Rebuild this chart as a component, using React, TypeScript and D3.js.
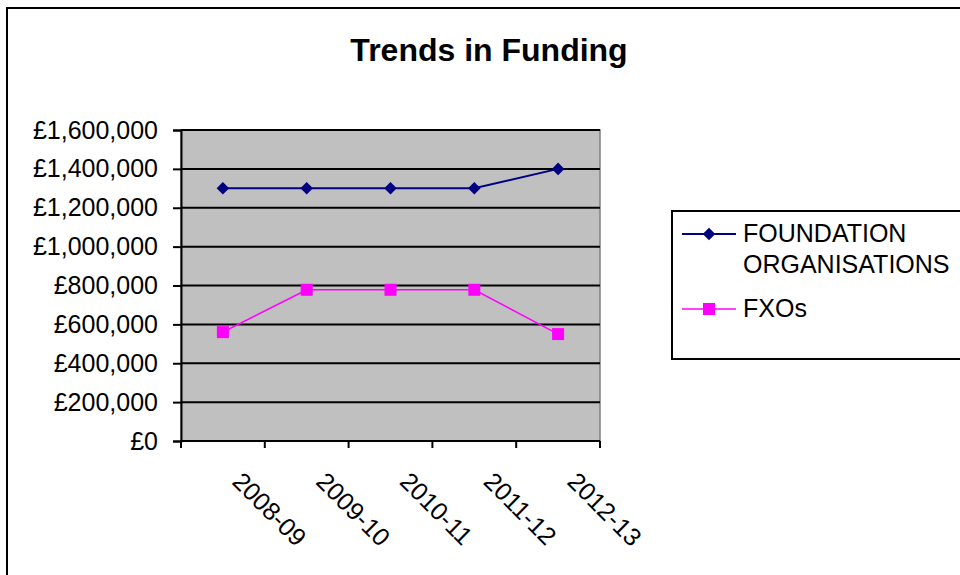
import { useEffect, useRef } from "react";
import * as d3 from "d3";

const years = ["2008-09", "2009-10", "2010-11", "2011-12", "2012-13"];
const foundation = [1300000, 1300000, 1300000, 1300000, 1400000];
const fxos = [560000, 778000, 778000, 778000, 550000];
const yTicks = [0, 200000, 400000, 600000, 800000, 1000000, 1200000, 1400000, 1600000];

const W = 960;
const H = 575;
const FONT = "'Liberation Sans', Arial, sans-serif";

export default function App() {
  const svgRef = useRef<SVGSVGElement>(null);

  useEffect(() => {
    if (!svgRef.current) return;
    const svg = d3.select(svgRef.current);
    svg.selectAll("*").remove();

    const plot = { left: 181, right: 600, top: 130, bottom: 441 };

    const x = d3.scaleBand<string>().domain(years).range([plot.left, plot.right]).padding(0);
    const y = d3.scaleLinear().domain([0, 1600000]).range([plot.bottom, plot.top]);
    const cx = (d: string) => (x(d) ?? 0) + x.bandwidth() / 2;

    // outer chart border (runs off the right / bottom)
    svg.append("rect")
      .attr("x", 7).attr("y", 8).attr("width", 980).attr("height", 600)
      .attr("fill", "white").attr("stroke", "black").attr("stroke-width", 2);

    svg.append("text")
      .attr("x", 489).attr("y", 61)
      .attr("text-anchor", "middle")
      .attr("font-family", FONT).attr("font-weight", "bold").attr("font-size", 32)
      .text("Trends in Funding");

    // plot background
    svg.append("rect")
      .attr("x", plot.left).attr("y", plot.top)
      .attr("width", plot.right - plot.left).attr("height", plot.bottom - plot.top)
      .attr("fill", "#c0c0c0").attr("stroke", "#808080").attr("stroke-width", 1.5);

    // gridlines
    svg.append("g").selectAll("line")
      .data(yTicks.filter((t) => t > 0))
      .join("line")
      .attr("x1", plot.left).attr("x2", plot.right)
      .attr("y1", (d) => y(d)).attr("y2", (d) => y(d))
      .attr("stroke", "black").attr("stroke-width", 2);

    // y axis
    const yAxis = svg.append("g")
      .attr("transform", `translate(${plot.left},0)`)
      .call(d3.axisLeft(y).tickValues(yTicks).tickSize(8).tickPadding(15)
        .tickFormat((d) => "£" + d3.format(",")(d as number)));
    yAxis.select(".domain").attr("stroke", "black").attr("stroke-width", 2);
    yAxis.selectAll(".tick line").attr("stroke", "black").attr("stroke-width", 2);
    yAxis.selectAll(".tick text")
      .attr("font-family", FONT).attr("font-size", 25).attr("fill", "black");

    // x axis: ticks at category boundaries
    const xg = svg.append("g");
    xg.append("line")
      .attr("x1", plot.left).attr("x2", plot.right)
      .attr("y1", plot.bottom).attr("y2", plot.bottom)
      .attr("stroke", "black").attr("stroke-width", 2);
    const bounds = years.map((d) => x(d) ?? 0).concat([plot.right]);
    xg.selectAll("line.tk").data(bounds).join("line")
      .attr("class", "tk")
      .attr("x1", (d) => d).attr("x2", (d) => d)
      .attr("y1", plot.bottom).attr("y2", plot.bottom + 7)
      .attr("stroke", "black").attr("stroke-width", 2);
    xg.selectAll("text").data(years).join("text")
      .attr("transform", (d) => `translate(${cx(d) + 8},${plot.bottom + 42}) rotate(45)`)
      .attr("font-family", FONT).attr("font-size", 25)
      .text((d) => d);

    const line = d3.line<number>()
      .x((_, i) => cx(years[i]))
      .y((d) => y(d));

    // FOUNDATION ORGANISATIONS
    svg.append("path").datum(foundation)
      .attr("d", line).attr("fill", "none")
      .attr("stroke", "#000080").attr("stroke-width", 2);
    const diamond = d3.symbol().type(d3.symbolDiamond2).size(100);
    svg.append("g").selectAll("path").data(foundation).join("path")
      .attr("d", diamond)
      .attr("transform", (d, i) => `translate(${cx(years[i])},${y(d)})`)
      .attr("fill", "#000080");

    // FXOs
    svg.append("path").datum(fxos)
      .attr("d", line).attr("fill", "none")
      .attr("stroke", "#ff00ff").attr("stroke-width", 1.5);
    svg.append("g").selectAll("rect").data(fxos).join("rect")
      .attr("x", (d, i) => cx(years[i]) - 6).attr("y", (d) => y(d) - 6)
      .attr("width", 12).attr("height", 12)
      .attr("fill", "#ff00ff");

    // legend
    const lg = svg.append("g");
    lg.append("rect")
      .attr("x", 672).attr("y", 211).attr("width", 320).attr("height", 148)
      .attr("fill", "white").attr("stroke", "black").attr("stroke-width", 2);

    lg.append("line").attr("x1", 682).attr("x2", 736).attr("y1", 234).attr("y2", 234)
      .attr("stroke", "#000080").attr("stroke-width", 2);
    lg.append("path").attr("d", diamond)
      .attr("transform", "translate(709,234)").attr("fill", "#000080");
    lg.append("text").attr("x", 743).attr("y", 242)
      .attr("font-family", FONT).attr("font-size", 25).text("FOUNDATION");
    lg.append("text").attr("x", 743).attr("y", 273)
      .attr("font-family", FONT).attr("font-size", 25).text("ORGANISATIONS");

    lg.append("line").attr("x1", 682).attr("x2", 736).attr("y1", 309).attr("y2", 309)
      .attr("stroke", "#ff00ff").attr("stroke-width", 1.5);
    lg.append("rect").attr("x", 703).attr("y", 303).attr("width", 12).attr("height", 12)
      .attr("fill", "#ff00ff");
    lg.append("text").attr("x", 743).attr("y", 317)
      .attr("font-family", FONT).attr("font-size", 25).text("FXOs");
  }, []);

  return (
    <svg
      ref={svgRef}
      width={W}
      height={H}
      style={{ position: "absolute", left: 0, top: 0, background: "white" }}
    />
  );
}
